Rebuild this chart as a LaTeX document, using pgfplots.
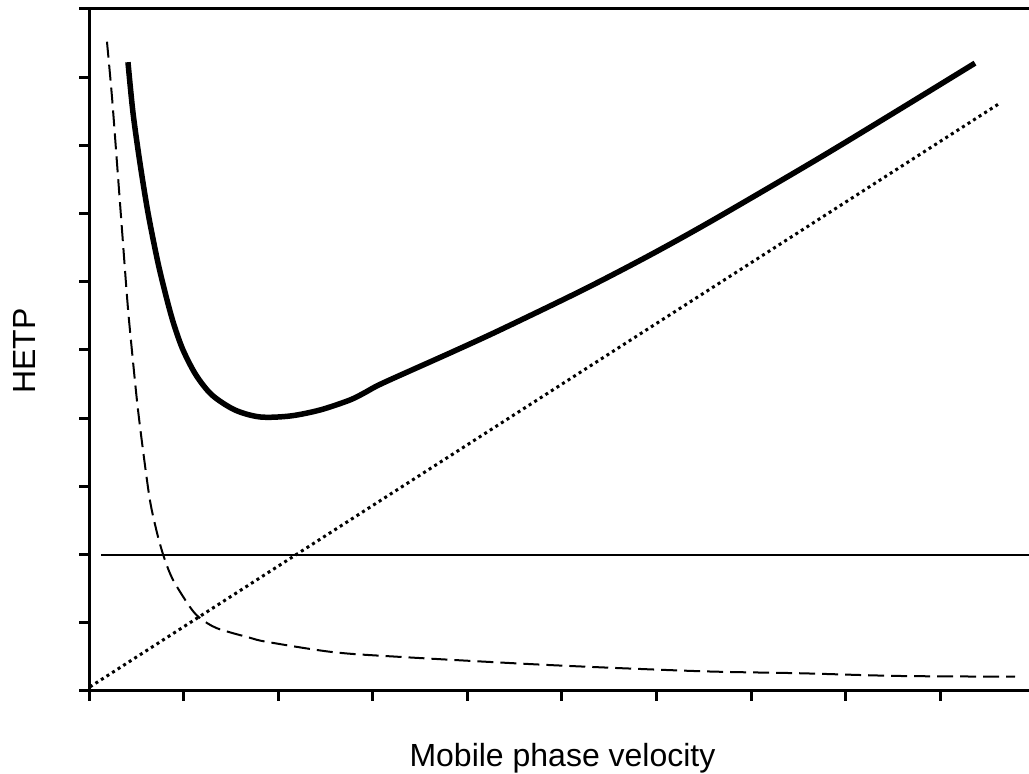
\documentclass[border=0pt]{standalone}
\usepackage{fontspec}
\setmainfont{Liberation Sans}
\usepackage{pgfplots}
\pgfplotsset{compat=1.18}
\begin{document}
\begin{tikzpicture}
\path[use as bounding box] (0,0) rectangle (514.5pt,387pt);
\begin{axis}[
  at={(44.5pt,41.5pt)}, anchor=south west,
  scale only axis, width=470pt, height=341pt,
  xmin=0, xmax=9.937, ymin=0, ymax=10,
  axis lines*=left,
  axis line style={line width=1.5pt, line cap=rect},
  xtick={0,...,9}, ytick={0,...,10},
  xticklabels={}, yticklabels={},
  tick align=outside, major tick length=5pt,
  every tick/.style={black, line width=1.5pt},
  clip=false,
]
% upper frame line
\draw[line width=1.5pt] (axis cs:0,10) -- (axis cs:9.937,10);

% A term (eddy diffusion)
\addplot[black, line width=1pt] coordinates {(0.127,2) (9.937,2)};

% C term (mass transfer)
\addplot[black, line width=1.5pt, dash pattern=on 1.5pt off 1.8pt]
  coordinates {(0.01,0.06) (9.63,8.62)};

% B term (longitudinal diffusion)
\addplot[black, line width=1pt, dash pattern=on 8pt off 3.5pt, smooth]
  coordinates {
  (0.19,9.52) (0.243,8.71) (0.296,7.74) (0.349,6.76) (0.402,5.78)
  (0.433,5.29) (0.507,4.26) (0.571,3.53) (0.645,2.79) (0.719,2.32)
  (0.793,1.96) (0.888,1.63) (1.068,1.23) (1.173,1.07) (1.353,0.92)
  (1.702,0.78) (1.882,0.72) (2.579,0.57) (3.288,0.50) (4.873,0.38)
  (6.459,0.29) (7.516,0.26) (8.573,0.22) (9.789,0.21)};

% total HETP
\addplot[black, line width=2.75pt, smooth]
  coordinates {
  (0.412,9.22) (0.465,8.48) (0.539,7.74) (0.624,7.01) (0.729,6.28)
  (0.825,5.733) (0.899,5.367) (0.994,5.000) (1.131,4.633) (1.300,4.340)
  (1.543,4.120) (1.808,4.018) (2.125,4.032) (2.442,4.120) (2.759,4.267)
  (2.928,4.384) (3.108,4.516) (3.816,4.956) (4.345,5.293) (5.222,5.881)
  (5.930,6.391) (6.600,6.907) (7.696,7.795) (8.573,8.532) (9.366,9.206)};
\end{axis}
\node[anchor=base, font=\fontsize{16}{19}\selectfont] at (281.25pt,3.5pt) {Mobile phase velocity};
\node[anchor=base, rotate=90, font=\fontsize{16}{19}\selectfont] at (17.5pt,211.5pt) {HETP};
\end{tikzpicture}
\end{document}
